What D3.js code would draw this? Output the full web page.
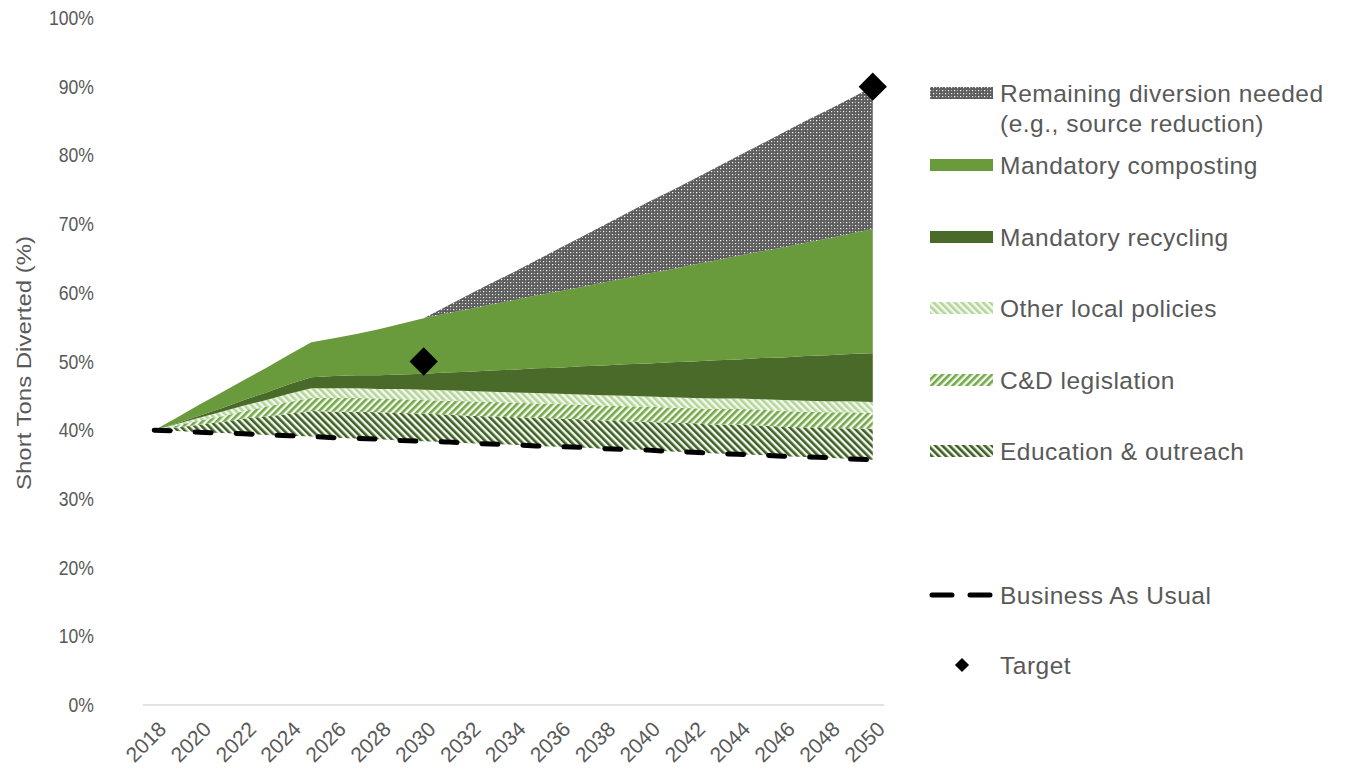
<!DOCTYPE html>
<html>
<head>
<meta charset="utf-8">
<script src="https://cdn.jsdelivr.net/npm/d3@7"></script>
<style>
  body { margin: 0; background: #fff; }
  text { font-family: "Liberation Sans", Arial, sans-serif; fill: #595959; }
</style>
</head>
<body>
<script>
let years = d3.range(2018, 2051);
let tickYears = [2018, 2020, 2022, 2024, 2026, 2028, 2030, 2032, 2034, 2036, 2038, 2040, 2042, 2044, 2046, 2048, 2050];
let yTicks = [0, 10, 20, 30, 40, 50, 60, 70, 80, 90, 100];

// business as usual (%), also the base of the stacked areas
let bau = [40.0, 39.9, 39.7, 39.6, 39.5, 39.3, 39.2, 39.1, 38.9, 38.8, 38.7, 38.5, 38.4, 38.3, 38.1, 38.0, 37.9,
  37.7, 37.6, 37.5, 37.3, 37.2, 37.1, 36.9, 36.8, 36.6, 36.5, 36.4, 36.2, 36.1, 36.0, 35.8, 35.7];
let education = [0, 0.5, 1.1, 1.6, 2.2, 2.7, 3.2, 3.7, 3.8, 3.9, 3.9, 4.0, 4.0, 4.0, 4.0, 4.0, 4.0,
  4.1, 4.1, 4.1, 4.1, 4.1, 4.1, 4.2, 4.2, 4.2, 4.3, 4.3, 4.3, 4.3, 4.3, 4.5, 4.5];
let cdLegislation = [0, 0.3, 0.6, 0.8, 1.1, 1.4, 1.7, 1.9, 2.0, 2.0, 2.0, 2.0, 2.0, 2.0, 2.1, 2.1, 2.1,
  2.1, 2.1, 2.1, 2.2, 2.2, 2.2, 2.2, 2.2, 2.3, 2.3, 2.3, 2.3, 2.3, 2.3, 2.3, 2.3];
let otherLocal = [0, 0.2, 0.4, 0.7, 0.8, 1.0, 1.2, 1.4, 1.4, 1.4, 1.4, 1.5, 1.5, 1.5, 1.5, 1.5, 1.5,
  1.5, 1.5, 1.5, 1.5, 1.5, 1.5, 1.5, 1.5, 1.5, 1.5, 1.5, 1.6, 1.6, 1.6, 1.6, 1.6];
let recycling = [0, 0.1, 0.3, 0.5, 0.8, 1.1, 1.4, 1.6, 1.8, 1.9, 2.0, 2.1, 2.3, 2.6, 2.8, 3.1, 3.3,
  3.6, 3.8, 4.1, 4.3, 4.6, 4.8, 5.1, 5.3, 5.6, 5.7, 6.0, 6.2, 6.5, 6.7, 6.9, 7.1];
let composting = [0, 0.8, 1.6, 2.3, 2.9, 3.6, 4.3, 5.1, 5.5, 6.0, 6.7, 7.4, 8.1, 8.6, 9.1, 9.6, 10.1,
  10.6, 11.1, 11.5, 12.1, 12.5, 13.1, 13.5, 14.1, 14.5, 15.1, 15.5, 16.0, 16.5, 17.0, 17.5, 18.1];
let remaining = [0, 0, 0, 0, 0, 0, 0, 0, 0, 0, 0, 0, 0, 1.0, 2.1, 3.1, 4.1,
  5.1, 6.2, 7.3, 8.3, 9.4, 10.4, 11.4, 12.4, 13.5, 14.5, 15.6, 16.7, 17.7, 18.7, 19.7, 20.7];
let targetYears = [2030, 2050];
let targetValues = [50, 90];

let keys = ["bau", "education", "cd", "other", "recycling", "composting", "remaining"];
let table = years.map(function (y, i) {
  return { year: y, bau: bau[i], education: education[i], cd: cdLegislation[i], other: otherLocal[i],
    recycling: recycling[i], composting: composting[i], remaining: remaining[i] };
});

let fills = {
  education: "url(#hatchEdu)",
  cd: "url(#hatchCd)",
  other: "url(#hatchOther)",
  recycling: "#4a6a2a",
  composting: "#699a3c",
  remaining: "url(#dots)"
};

let svg = d3.select("body").append("svg")
  .attr("width", 1346)
  .attr("height", 783);

let defs = svg.append("defs");

function hatch(id, color, angle) {
  let p = defs.append("pattern")
    .attr("id", id)
    .attr("patternUnits", "userSpaceOnUse")
    .attr("width", 5)
    .attr("height", 5)
    .attr("patternTransform", "rotate(" + angle + ")");
  p.append("rect").attr("width", 5).attr("height", 5).attr("fill", "#f4f9ef");
  p.append("rect").attr("width", 2.6).attr("height", 5).attr("fill", color);
}
hatch("hatchEdu", "#3f5f26", -45);
hatch("hatchCd", "#74a84a", 45);
hatch("hatchOther", "#b5d69a", -45);

let dp = defs.append("pattern")
  .attr("id", "dots")
  .attr("patternUnits", "userSpaceOnUse")
  .attr("width", 6)
  .attr("height", 6);
dp.append("rect").attr("width", 6).attr("height", 6).attr("fill", "#5e5e5e");
dp.append("rect").attr("x", 0).attr("y", 0).attr("width", 1.2).attr("height", 1.2).attr("fill", "#fff");
dp.append("rect").attr("x", 3).attr("y", 3).attr("width", 1.2).attr("height", 1.2).attr("fill", "#fff");
dp.append("rect").attr("x", 3).attr("y", 0).attr("width", 1).attr("height", 1).attr("fill", "#bbb");
dp.append("rect").attr("x", 0).attr("y", 3).attr("width", 1).attr("height", 1).attr("fill", "#bbb");

let x = d3.scalePoint()
  .domain(years)
  .range([143, 884])
  .padding(0.5);

let y = d3.scaleLinear()
  .domain([0, 100])
  .range([705, 18]);

let stacked = d3.stack().keys(keys)(table);

let area = d3.area()
  .x(function (d) { return x(d.data.year); })
  .y0(function (d) { return y(d[0]); })
  .y1(function (d) { return y(d[1]); });

svg.selectAll(".layer")
  .data(stacked.filter(function (s) { return s.key != "bau"; }))
  .enter().append("path")
  .attr("class", "layer")
  .attr("d", area)
  .attr("fill", function (s) { return fills[s.key]; });

// x axis line and labels
svg.append("line")
  .attr("x1", 143).attr("x2", 884)
  .attr("y1", y(0)).attr("y2", y(0))
  .attr("stroke", "#d9d9d9")
  .attr("stroke-width", 1.5);

svg.selectAll(".xlab")
  .data(tickYears)
  .enter().append("text")
  .attr("class", "xlab")
  .attr("transform", function (d) { return "translate(" + (x(d) + 3) + "," + 720 + ") rotate(-45)"; })
  .attr("text-anchor", "end")
  .attr("dy", "0.7em")
  .attr("font-size", 21)
  .text(String);

svg.selectAll(".ylab")
  .data(yTicks)
  .enter().append("text")
  .attr("class", "ylab")
  .attr("transform", function (d) { return "translate(94," + y(d) + ") scale(0.88,1)"; })
  .attr("dy", "0.35em")
  .attr("text-anchor", "end")
  .attr("font-size", 20)
  .text(function (d) { return d + "%"; });

svg.append("text")
  .attr("transform", "translate(31,363) rotate(-90)")
  .attr("text-anchor", "middle")
  .attr("font-size", 20)
  .attr("textLength", 254)
  .attr("lengthAdjust", "spacingAndGlyphs")
  .text("Short Tons Diverted (%)");

// business as usual
let line = d3.line()
  .x(function (d, i) { return x(years[i]); })
  .y(function (d) { return y(d); });

svg.append("path")
  .attr("d", line(bau))
  .attr("fill", "none")
  .attr("stroke", "#000")
  .attr("stroke-width", 5)
  .attr("stroke-linecap", "round")
  .attr("stroke-dasharray", "16,25");

// targets
svg.selectAll(".target")
  .data(targetValues)
  .enter().append("rect")
  .attr("class", "target")
  .attr("x", -10).attr("y", -10)
  .attr("width", 20).attr("height", 20)
  .attr("fill", "#000")
  .attr("transform", function (d, i) { return "translate(" + x(targetYears[i]) + "," + y(d) + ") rotate(45)"; });

// legend
let legendItems = [
  { label: ["Remaining diversion needed", "(e.g., source reduction)"], fill: fills.remaining, y: 93 },
  { label: ["Mandatory composting"], fill: fills.composting, y: 165 },
  { label: ["Mandatory recycling"], fill: fills.recycling, y: 237 },
  { label: ["Other local policies"], fill: fills.other, y: 308 },
  { label: ["C&D legislation"], fill: fills.cd, y: 380 },
  { label: ["Education & outreach"], fill: fills.education, y: 451 }
];

let leg = svg.selectAll(".leg")
  .data(legendItems)
  .enter().append("g")
  .attr("class", "leg");

leg.append("rect")
  .attr("x", 930)
  .attr("y", function (d) { return d.y - 6; })
  .attr("width", 63)
  .attr("height", 12)
  .attr("fill", function (d) { return d.fill; });

leg.each(function (d) {
  let t = d3.select(this).append("text")
    .attr("x", 1000)
    .attr("y", d.y)
    .attr("font-size", 24.5)
    .attr("letter-spacing", 0.5);
  d.label.forEach(function (s, i) {
    t.append("tspan").attr("x", 1000).attr("dy", i == 0 ? "0.35em" : "1.24em").text(s);
  });
});

svg.append("line")
  .attr("x1", 932).attr("x2", 992)
  .attr("y1", 595).attr("y2", 595)
  .attr("stroke", "#000")
  .attr("stroke-width", 5)
  .attr("stroke-linecap", "round")
  .attr("stroke-dasharray", "20,18");

svg.append("text")
  .attr("x", 1000).attr("y", 595)
  .attr("dy", "0.35em")
  .attr("font-size", 24.5)
  .attr("letter-spacing", 0.5)
  .text("Business As Usual");

svg.append("rect")
  .attr("x", -5).attr("y", -5)
  .attr("width", 10).attr("height", 10)
  .attr("fill", "#000")
  .attr("transform", "translate(962,665) rotate(45)");

svg.append("text")
  .attr("x", 1000).attr("y", 665)
  .attr("dy", "0.35em")
  .attr("font-size", 24.5)
  .attr("letter-spacing", 0.5)
  .text("Target");
</script>
</body>
</html>
